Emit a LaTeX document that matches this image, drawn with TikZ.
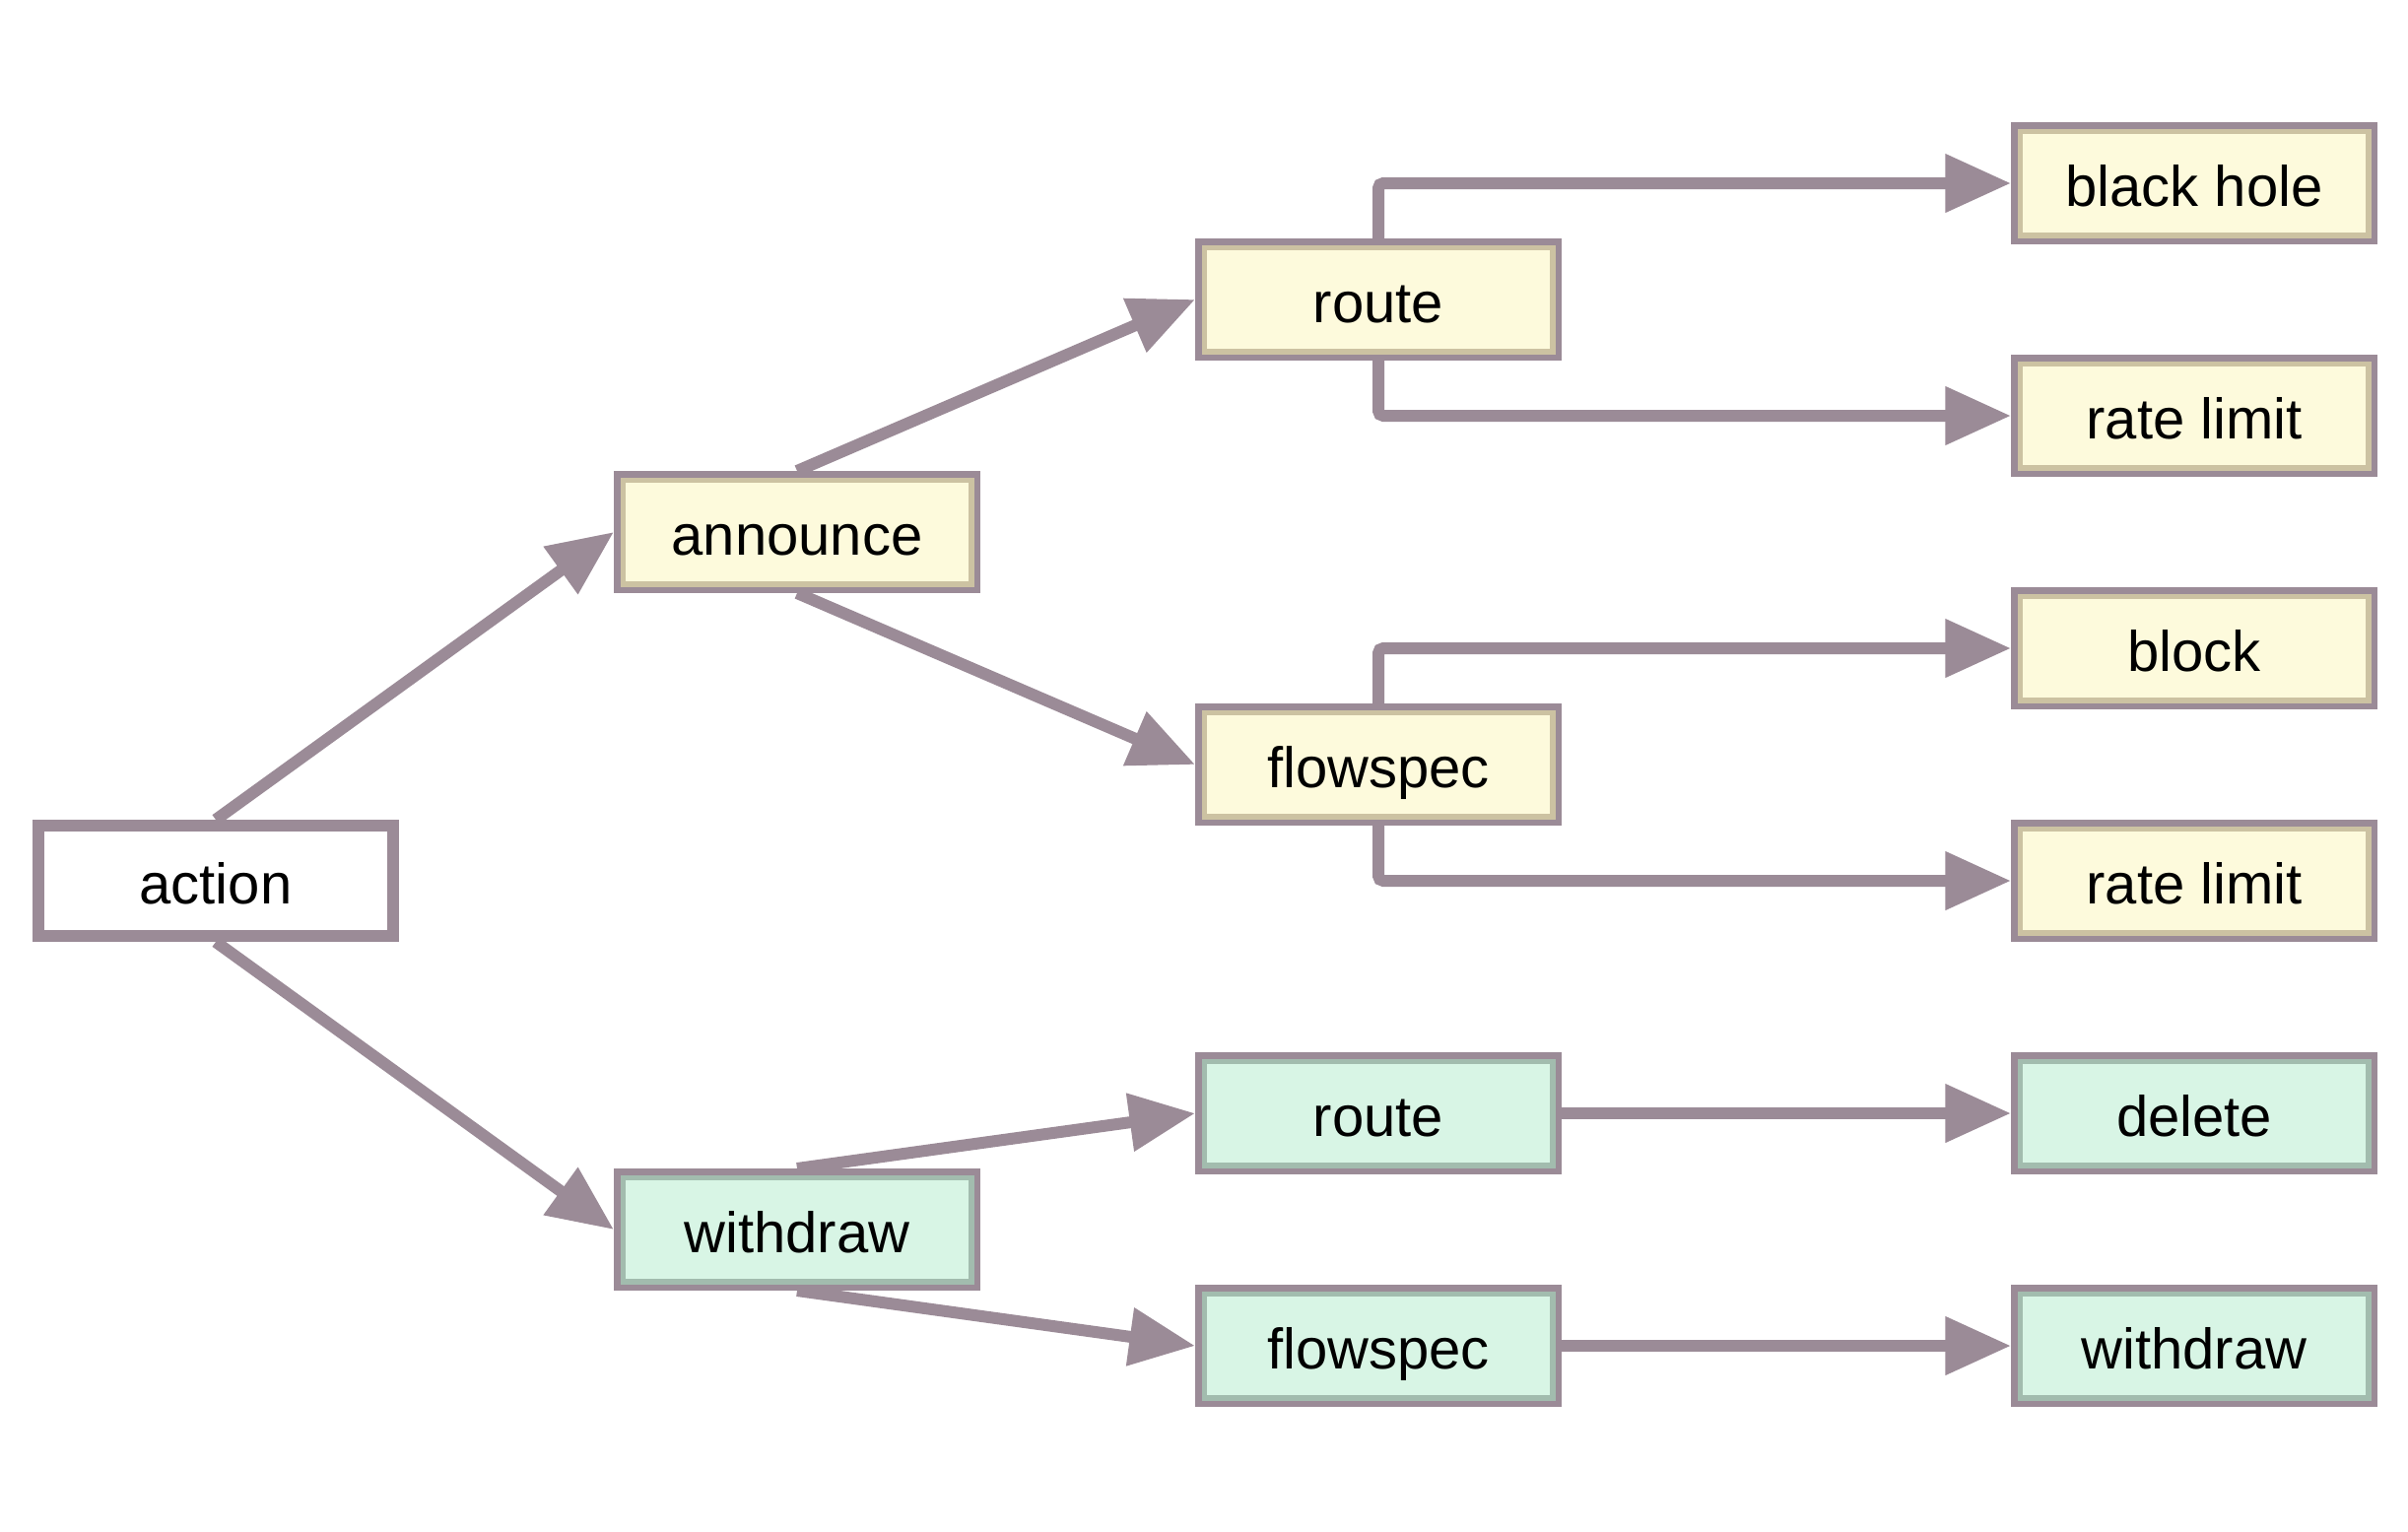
\documentclass[tikz,border=0pt]{standalone}
\usepackage{fontspec}
\setmainfont{Liberation Sans}
\usetikzlibrary{arrows.meta}
\definecolor{edgecol}{HTML}{9B8B97}
\definecolor{yfill}{HTML}{FDFADC}
\definecolor{yband}{HTML}{CCC2A2}
\definecolor{gfill}{HTML}{D8F5E5}
\definecolor{gband}{HTML}{A2BCAE}
\begin{document}
\begin{tikzpicture}[x=30pt, y=-30pt,
    box/.style={rectangle, inner sep=0pt, text height=14.1pt, text depth=0pt,
      font=\fontsize{17.4}{20}\selectfont},
    plainbox/.style={box, draw=edgecol, line width=3.6pt, fill=white,
      minimum width=108pt, minimum height=33.6pt},
    bandbox/.style={box, draw=edgecol, line width=1.95pt, fill=#1fill,
      minimum width=109.65pt, minimum height=35.25pt,
      path picture={\draw[#1band, line width=5.25pt]
        (path picture bounding box.south west) rectangle (path picture bounding box.north east);}},
    link/.style={draw=edgecol, line width=3.6pt, -{Triangle[length=20pt, width=17pt]}}]
                    \useasboundingbox (0,0) rectangle (24.44,15.54);
                    \node[plainbox] (act) at (2.19,8.94) {action};
                    \node[bandbox=y] (ann) at (8.09,5.40) {announce};
                    \node[bandbox=g] (wd) at (8.09,12.48) {withdraw};
                    \node[bandbox=y] (ar) at (13.99,3.04) {route};
                    \node[bandbox=y] (af) at (13.99,7.76) {flowspec};
                    \node[bandbox=g] (wr) at (13.99,11.30) {route};
                    \node[bandbox=g] (wf) at (13.99,13.66) {flowspec};
                    \node[bandbox=y] (bh) at (22.27,1.86) {black hole};
                    \node[bandbox=y] (rl) at (22.27,4.22) {rate limit};
                    \node[bandbox=y] (blk) at (22.27,6.58) {block};
                    \node[bandbox=y] (frl) at (22.27,8.94) {rate limit};
                    \node[bandbox=g] (del) at (22.27,11.30) {delete};
                    \node[bandbox=g] (fwd) at (22.27,13.66) {withdraw};
                    \draw[link] (act.north) -- (ann.west);
                    \draw[link] (act.south) -- (wd.west);
                    \draw[link] (ann.north) -- (ar.west);
                    \draw[link] (ann.south) -- (af.west);
                    \draw[link] (wd.north) -- (wr.west);
                    \draw[link] (wd.south) -- (wf.west);
                    \draw[link, rounded corners=1.5pt] (ar.north) |- (bh.west);
                    \draw[link, rounded corners=1.5pt] (ar.south) |- (rl.west);
                    \draw[link, rounded corners=1.5pt] (af.north) |- (blk.west);
                    \draw[link, rounded corners=1.5pt] (af.south) |- (frl.west);
                    \draw[link] (wr.east) -- (del.west);
                    \draw[link] (wf.east) -- (fwd.west);
                \end{tikzpicture}
\end{document}
